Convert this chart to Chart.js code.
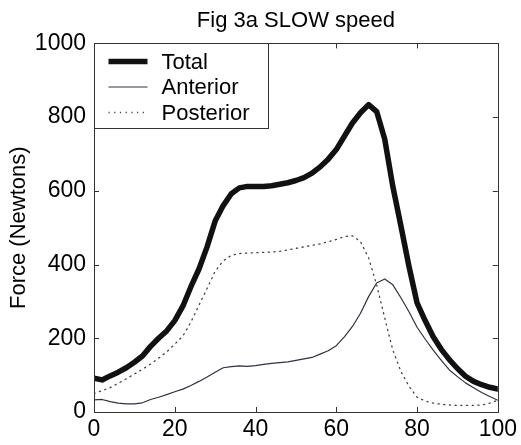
<!DOCTYPE html>
<html>
<head>
<meta charset="utf-8">
<script src="https://cdn.jsdelivr.net/npm/chart.js@4"></script>
<style>
  html, body { margin: 0; padding: 0; background: #fff; }
  #wrap { width: 521px; height: 445px; }
</style>
</head>
<body>
<div id="wrap"><canvas id="myChart" width="521" height="445"></canvas></div>
<script>
// % of stance, every 2 %
const pct = [0, 2, 4, 6, 8, 10, 12, 14, 16, 18, 20, 22, 24, 26, 28, 30, 32, 34, 36, 38, 40,
    42, 44, 46, 48, 50, 52, 54, 56, 58, 60, 62, 64, 66, 68, 70, 72, 74, 76, 78, 80,
    82, 84, 86, 88, 90, 92, 94, 96, 98, 100];

const total = [92, 87, 98, 108, 120, 135, 152, 178, 200, 220, 248, 287, 340, 388, 448, 518, 560, 592, 608, 612, 612,
    612, 614, 618, 622, 628, 636, 648, 665, 686, 712, 748, 784, 812, 834, 815, 740, 612, 505, 395, 296,
    248, 204, 170, 142, 118, 97, 83, 74, 67, 62];

const anterior = [33, 34, 28, 24, 22, 22, 25, 34, 40, 47, 55, 62, 72, 83, 95, 108, 120, 123, 125, 124, 126,
    129, 132, 134, 136, 140, 144, 148, 157, 166, 180, 204, 232, 268, 313, 350, 361, 345, 310, 272, 230,
    198, 168, 140, 114, 96, 79, 66, 53, 42, 32];

const posterior = [50, 58, 66, 78, 90, 103, 116, 130, 146, 163, 184, 206, 244, 290, 335, 382, 410, 425, 430, 431, 432,
    433, 434, 436, 440, 444, 448, 452, 456, 462, 468, 476, 478, 462, 418, 345, 255, 168, 110, 70, 40,
    30, 24, 21, 19, 18, 18, 18, 19, 24, 32];

const xTicks = [0, 20, 40, 60, 80, 100];
const yTicks = [0, 200, 400, 600, 800, 1000];

const FONT = 'Arial, "Liberation Sans", Helvetica, sans-serif';

const toPoints = ys => ys.map((y, i) => ({ x: pct[i], y }));

// MATLAB-like frame with inward ticks on all four sides
const frameTicks = {
    id: 'frameTicks',
    afterDatasetsDraw(chart) {
        const { ctx, chartArea: a, scales: { x, y } } = chart;
        const len = 5;
        ctx.save();
        ctx.strokeStyle = '#333';
        ctx.lineWidth = 1;
        ctx.beginPath();
        xTicks.forEach(v => {
            const px = Math.round(x.getPixelForValue(v)) + 0.5;
            ctx.moveTo(px, a.bottom); ctx.lineTo(px, a.bottom - len);
            ctx.moveTo(px, a.top); ctx.lineTo(px, a.top + len);
        });
        yTicks.forEach(v => {
            const py = Math.round(y.getPixelForValue(v)) + 0.5;
            ctx.moveTo(a.left, py); ctx.lineTo(a.left + len, py);
            ctx.moveTo(a.right, py); ctx.lineTo(a.right - len, py);
        });
        ctx.stroke();
        ctx.strokeRect(Math.round(a.left) + 0.5, Math.round(a.top) + 0.5,
            Math.round(a.right - a.left), Math.round(a.bottom - a.top));
        ctx.restore();
    }
};

// boxed legend in the upper left corner of the axes
const boxLegend = {
    id: 'boxLegend',
    afterDraw(chart) {
        const { ctx, chartArea: a } = chart;
        const left = Math.round(a.left) + 0.5;
        const top = Math.round(a.top) + 0.5;
        const w = 174, h = 85;
        ctx.save();
        ctx.fillStyle = '#fff';
        ctx.fillRect(left, top, w, h);
        ctx.strokeStyle = '#333';
        ctx.lineWidth = 1;
        ctx.strokeRect(left, top, w, h);
        ctx.font = '22px ' + FONT;
        ctx.textBaseline = 'middle';
        ctx.fillStyle = '#000';
        chart.data.datasets.forEach((ds, i) => {
            const yy = top + 18 + i * 25.5;
            ctx.beginPath();
            ctx.strokeStyle = ds.borderColor;
            ctx.lineWidth = ds.borderWidth;
            ctx.setLineDash(ds.borderDash || []);
            ctx.moveTo(left + 14, yy);
            ctx.lineTo(left + 53, yy);
            ctx.stroke();
            ctx.setLineDash([]);
            ctx.fillText(ds.label, left + 67, yy + 1);
        });
        ctx.restore();
    }
};

const ctx = document.getElementById('myChart');

new Chart(ctx, {
    type: 'line',
    data: {
        datasets: [
            {
                label: 'Total',
                data: toPoints(total),
                borderColor: '#111',
                borderWidth: 5.5,
            },
            {
                label: 'Anterior',
                data: toPoints(anterior),
                borderColor: '#3a2c40',
                borderWidth: 1.2,
            },
            {
                label: 'Posterior',
                data: toPoints(posterior),
                borderColor: '#444',
                borderWidth: 1.3,
                borderDash: [1.2, 4.5],
            }
        ]
    },
    options: {
        responsive: false,
        animation: false,
        layout: { padding: { left: 0, right: 19, top: 0, bottom: 0 } },
        elements: {
            point: { radius: 0 },
            line: { tension: 0, fill: false, borderCapStyle: 'round', borderJoinStyle: 'round' }
        },
        plugins: {
            legend: { display: false },
            tooltip: { enabled: false },
            title: {
                display: true,
                text: 'Fig 3a SLOW speed',
                fullSize: false,
                color: '#000',
                font: { family: FONT, size: 22, weight: 'normal' },
                padding: { top: 8, bottom: 9 }
            }
        },
        scales: {
            x: {
                type: 'linear',
                min: 0,
                max: 100,
                afterBuildTicks: scale => { scale.ticks = xTicks.map(v => ({ value: v })); },
                afterFit: scale => { scale.height = 33; },
                grid: { display: false, drawTicks: false },
                border: { display: false },
                ticks: {
                    color: '#000',
                    padding: 4,
                    maxRotation: 0,
                    callback: v => String(v),
                    font: { family: FONT, size: 23 }
                }
            },
            y: {
                min: 0,
                max: 1000,
                afterBuildTicks: scale => { scale.ticks = yTicks.map(v => ({ value: v })); },
                afterFit: scale => { scale.width = 94; },
                grid: { display: false, drawTicks: false },
                border: { display: false },
                ticks: {
                    color: '#000',
                    padding: 8,
                    callback: v => String(v),
                    font: { family: FONT, size: 23 }
                },
                title: {
                    display: true,
                    text: 'Force (Newtons)',
                    color: '#000',
                    padding: { top: 6, bottom: 0 },
                    font: { family: FONT, size: 22 }
                }
            }
        }
    },
    plugins: [frameTicks, boxLegend]
});
</script>
</body>
</html>
